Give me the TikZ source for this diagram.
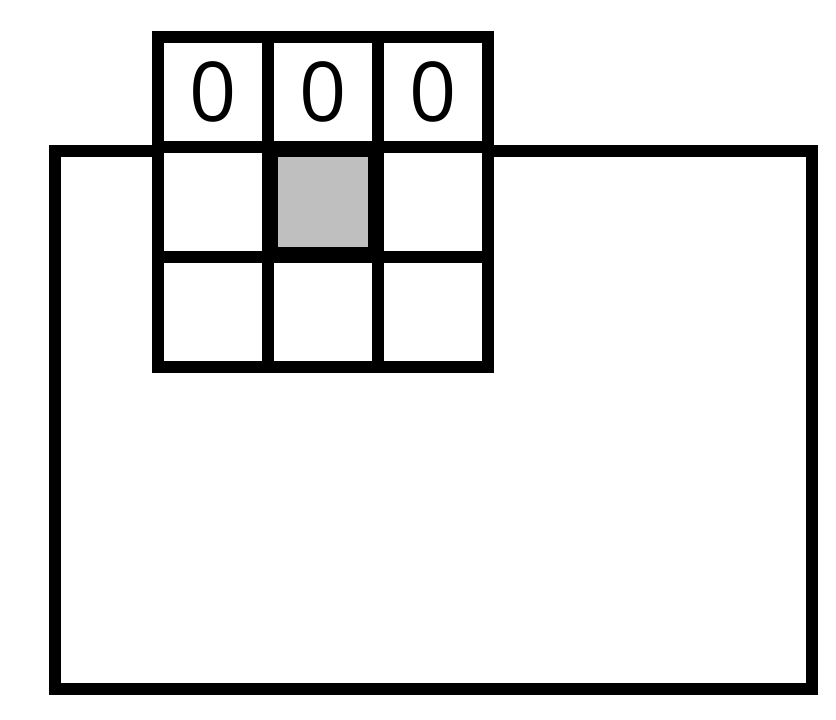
\documentclass[tikz,border=0pt]{standalone}
\usepackage{fontspec}
\newfontfamily\digitfont{Open Sans}
\usetikzlibrary{positioning}

\begin{document}
\begin{tikzpicture}[x=0.2mm,y=-0.2mm,node distance=22mm,on grid,
				board/.style={rectangle, draw, line width=2.4mm, minimum width=151.4mm, minimum height=107.6mm, inner sep=0pt},
				cell/.style={rectangle, draw, fill=white, line width=2.4mm, minimum size=22mm, inner sep=0pt, font=\digitfont\fontsize{47}{47}\selectfont},
				centre/.style={rectangle, draw, fill=gray!50, line width=3.2mm, minimum size=21.2mm, inner sep=0pt}
			]
			\useasboundingbox (0,0) rectangle (836,720);
			
			\node[board] (image) at (433.2,420) {};
			
			\node[cell] (c_1_1) at (213,92) {0};
			\node[cell] (c_1_2) [right=of c_1_1] {0};
			\node[cell] (c_1_3) [right=of c_1_2] {0};
			
			\node[cell] (c_2_1) [below=of c_1_1] {};
			\node[cell] (c_2_2) [below=of c_1_2] {};
			\node[cell] (c_2_3) [below=of c_1_3] {};
			
			\node[cell] (c_3_1) [below=of c_2_1] {};
			\node[cell] (c_3_2) [below=of c_2_2] {};
			\node[cell] (c_3_3) [below=of c_2_3] {};
			
			\node[centre] (pixel) at (c_2_2) {};
		\end{tikzpicture}
\end{document}
